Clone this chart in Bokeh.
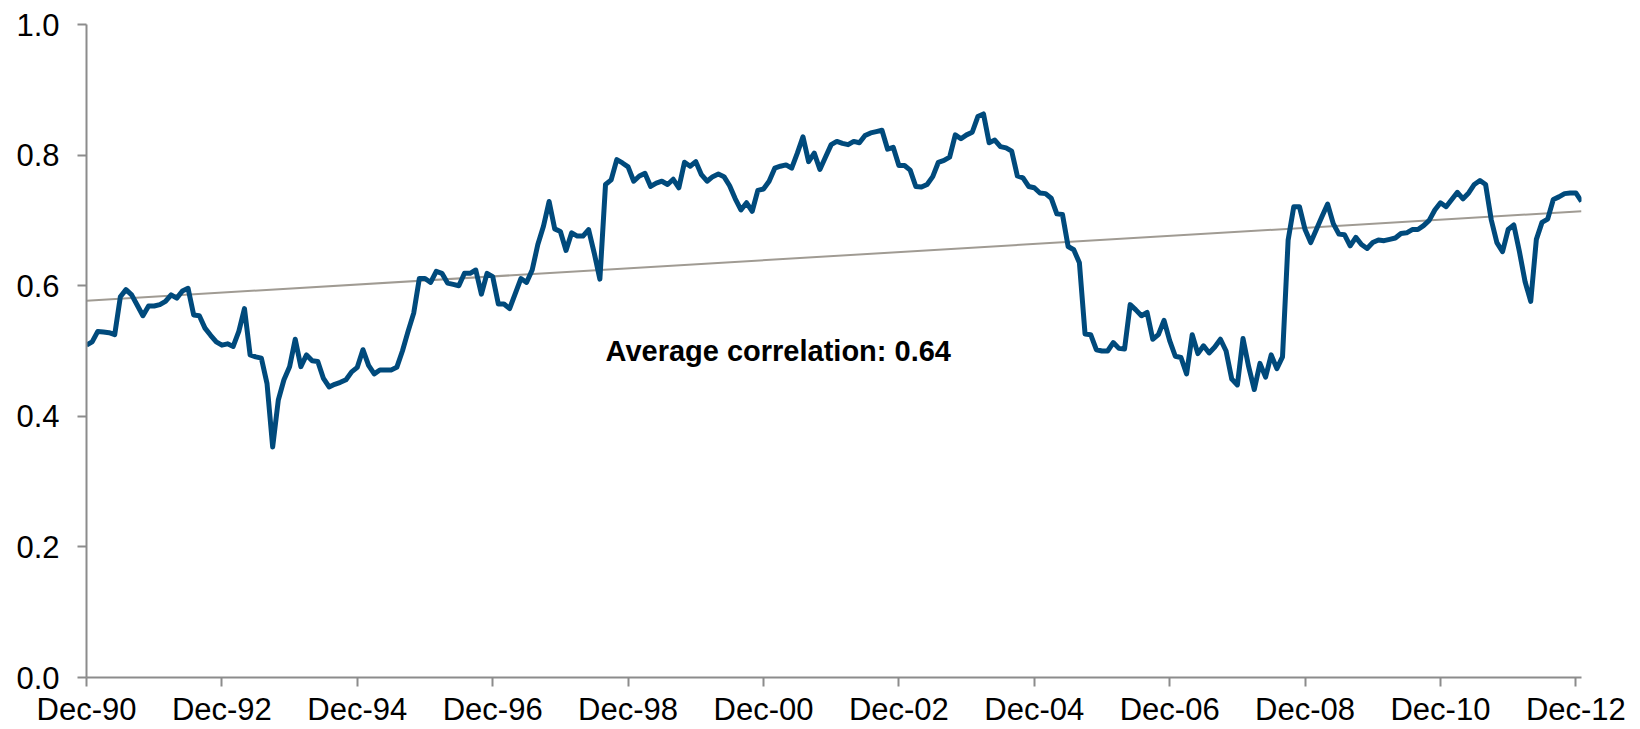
from bokeh.plotting import figure
from bokeh.models import Range1d, FixedTicker, Label
from bokeh.embed import file_html
from bokeh.resources import INLINE

# Monthly correlation, Dec-90 .. Jan-13
corr = [
    0.509, 0.514, 0.530, 0.529, 0.528, 0.525, 0.583, 0.594, 0.586, 0.570,
    0.554, 0.569, 0.569, 0.571, 0.576, 0.586, 0.581, 0.592, 0.596, 0.555,
    0.554, 0.535, 0.524, 0.514, 0.509, 0.511, 0.507, 0.530, 0.565, 0.494,
    0.491, 0.489, 0.450, 0.353, 0.425, 0.456, 0.476, 0.518, 0.476, 0.494,
    0.485, 0.484, 0.458, 0.445, 0.449, 0.452, 0.456, 0.468, 0.475, 0.502,
    0.478, 0.465, 0.471, 0.471, 0.471, 0.475, 0.500, 0.530, 0.558, 0.611,
    0.611, 0.605, 0.622, 0.619, 0.604, 0.602, 0.600, 0.619, 0.619, 0.624,
    0.587, 0.619, 0.614, 0.572, 0.572, 0.565, 0.588, 0.611, 0.605, 0.624,
    0.663, 0.691, 0.729, 0.687, 0.683, 0.654, 0.681, 0.676, 0.676, 0.686,
    0.650, 0.610, 0.755, 0.762, 0.793, 0.788, 0.782, 0.760, 0.768, 0.772,
    0.752, 0.757, 0.760, 0.755, 0.763, 0.750, 0.789, 0.783, 0.790, 0.770,
    0.760, 0.767, 0.771, 0.767, 0.753, 0.733, 0.716, 0.727, 0.714, 0.746,
    0.748, 0.760, 0.780, 0.783, 0.785, 0.780, 0.803, 0.828, 0.790, 0.803,
    0.778, 0.797, 0.816, 0.821, 0.818, 0.816, 0.821, 0.819, 0.830, 0.834,
    0.836, 0.838, 0.809, 0.812, 0.784, 0.784, 0.777, 0.752, 0.751, 0.755,
    0.767, 0.789, 0.792, 0.797, 0.831, 0.825, 0.831, 0.835, 0.859, 0.863,
    0.819, 0.823, 0.813, 0.811, 0.806, 0.768, 0.765, 0.752, 0.750, 0.742,
    0.741, 0.734, 0.710, 0.709, 0.660, 0.655, 0.635, 0.526, 0.525, 0.502,
    0.500, 0.500, 0.513, 0.504, 0.503, 0.571, 0.563, 0.554, 0.559, 0.518,
    0.525, 0.547, 0.516, 0.492, 0.490, 0.465, 0.525, 0.496, 0.508, 0.497,
    0.506, 0.518, 0.500, 0.457, 0.448, 0.519, 0.476, 0.441, 0.481, 0.460,
    0.494, 0.473, 0.491, 0.670, 0.721, 0.721, 0.686, 0.666, 0.686, 0.706,
    0.725, 0.695, 0.679, 0.678, 0.661, 0.674, 0.663, 0.657, 0.666, 0.670,
    0.669, 0.671, 0.673, 0.680, 0.681, 0.686, 0.686, 0.692, 0.700, 0.716,
    0.727, 0.721, 0.732, 0.743, 0.733, 0.742, 0.755, 0.761, 0.755, 0.701,
    0.666, 0.652, 0.686, 0.693, 0.652, 0.606, 0.576, 0.671, 0.697, 0.702,
    0.732, 0.736, 0.741, 0.742, 0.742, 0.729,
]
months = list(range(len(corr)))  # months since Dec-90

# Linear trend, read at first and last month
trend_start = 0.577
trend_end = 0.714

tick_months = [0, 24, 48, 72, 96, 120, 144, 168, 192, 216, 240, 264]
tick_labels = ["Dec-90", "Dec-92", "Dec-94", "Dec-96", "Dec-98", "Dec-00",
               "Dec-02", "Dec-04", "Dec-06", "Dec-08", "Dec-10", "Dec-12"]
y_ticks = [0.0, 0.2, 0.4, 0.6, 0.8, 1.0]

avg_text = "Average correlation: 0.64"

FONT = "Liberation Sans"

p = figure(width=1640, height=729, output_backend="svg", toolbar_location=None,
           x_range=Range1d(months[0], months[-1]), y_range=Range1d(0, 1),
           min_border_left=86, min_border_right=59, min_border_top=24,
           min_border_bottom=52)
p.background_fill_color = "white"
p.border_fill_color = "white"
p.outline_line_color = None
p.xgrid.grid_line_color = None
p.ygrid.grid_line_color = None

p.line([months[0], months[-1]], [trend_start, trend_end],
       line_color="#a09b93", line_width=2)
p.line(months, corr, line_color="#004a7c", line_width=5, line_join="round")

p.add_layout(Label(x=92, y=0.50, text=avg_text, text_font=FONT,
                   text_font_size="29px", text_font_style="bold",
                   text_color="black", text_baseline="middle",
                   text_align="left"))

for ax in (p.xaxis[0], p.yaxis[0]):
    ax.axis_line_color = "#8c8c8c"
    ax.axis_line_width = 2
    ax.major_tick_line_color = "#8c8c8c"
    ax.major_tick_line_width = 2
    ax.major_tick_out = 9
    ax.major_tick_in = 0
    ax.minor_tick_line_color = None
    ax.major_label_text_font = FONT
    ax.major_label_text_font_size = "31px"
    ax.major_label_text_color = "black"

p.xaxis.ticker = FixedTicker(ticks=tick_months)
p.xaxis.major_label_overrides = {m: l for m, l in zip(tick_months, tick_labels)}
p.xaxis.major_label_standoff = 5

p.yaxis.ticker = FixedTicker(ticks=y_ticks)
p.yaxis.major_label_overrides = {v: f"{v:.1f}" for v in y_ticks}
p.yaxis.major_label_standoff = 18

open("out.html", "w").write(file_html(p, INLINE))
